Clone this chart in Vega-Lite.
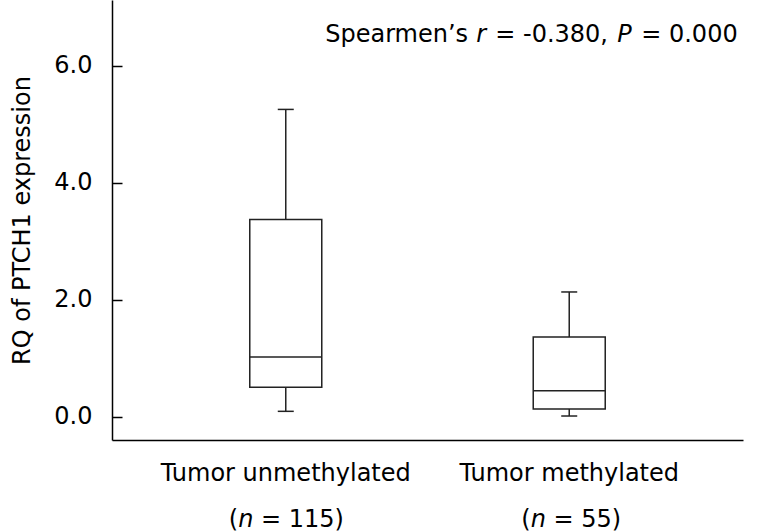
{
  "$schema": "https://vega.github.io/schema/vega-lite/v6.json",
  "width": 631,
  "height": 440,
  "autosize": {"type": "none"},
  "padding": {"left": 112, "top": 0, "right": 15, "bottom": 91},
  "background": "white",
  "config": {
    "view": {"stroke": null},
    "font": "DejaVu Sans",
    "text": {"font": "DejaVu Sans", "fontSize": 24, "color": "#000", "baseline": "alphabetic", "align": "left"}
  },
  "data": {
    "values": [
      {"group": "Tumor unmethylated", "min": 0.09, "q1": 0.50, "median": 1.02, "q3": 3.37, "max": 5.25},
      {"group": "Tumor methylated", "min": 0.01, "q1": 0.13, "median": 0.44, "q3": 1.36, "max": 2.13}
    ]
  },
  "encoding": {
    "x": {
      "field": "group",
      "type": "nominal",
      "sort": ["Tumor unmethylated", "Tumor methylated"],
      "scale": {"paddingOuter": 0.113, "paddingInner": 0},
      "axis": {
        "title": null,
        "labelAngle": 0,
        "labelFont": "DejaVu Sans",
        "labelFontSize": 24,
        "labelColor": "#000",
        "labelPadding": 21,
        "labelLimit": 0,
        "ticks": false,
        "domainColor": "#000",
        "domainWidth": 1.5,
        "labelBaseline": "top"
      }
    }
  },
  "layer": [
    {
      "mark": {"type": "rule", "stroke": "#222", "strokeWidth": 1.5},
      "encoding": {
        "y": {
          "field": "min",
          "type": "quantitative",
          "scale": {"domain": [-0.40, 7.12], "nice": false, "zero": false},
          "axis": {
            "values": [0, 2, 4, 6],
            "format": ".1f",
            "title": "RQ of PTCH1 expression",
            "titleFont": "DejaVu Sans",
            "titleFontSize": 24,
            "titleFontWeight": "normal",
            "titleColor": "#000",
            "titlePadding": 19,
            "labelFont": "DejaVu Sans",
            "labelFontSize": 24,
            "labelColor": "#000",
            "labelPadding": 30,
            "tickSize": -10,
            "tickWidth": 1.5,
            "tickColor": "#000",
            "domainColor": "#000",
            "domainWidth": 1.5,
            "grid": false
          }
        },
        "y2": {"field": "q1"}
      }
    },
    {
      "mark": {"type": "rule", "stroke": "#222", "strokeWidth": 1.5},
      "encoding": {
        "y": {"field": "q3", "type": "quantitative"},
        "y2": {"field": "max"}
      }
    },
    {
      "mark": {"type": "bar", "size": 72, "fill": "white", "stroke": "#222", "strokeWidth": 1.5},
      "encoding": {
        "y": {"field": "q1", "type": "quantitative"},
        "y2": {"field": "q3"}
      }
    },
    {
      "mark": {"type": "tick", "size": 72, "thickness": 1.5, "color": "#222", "opacity": 1},
      "encoding": {"y": {"field": "median", "type": "quantitative"}}
    },
    {
      "mark": {"type": "tick", "size": 16, "thickness": 1.5, "color": "#222", "opacity": 1},
      "encoding": {"y": {"field": "min", "type": "quantitative"}}
    },
    {
      "mark": {"type": "tick", "size": 16, "thickness": 1.5, "color": "#222", "opacity": 1},
      "encoding": {"y": {"field": "max", "type": "quantitative"}}
    },
    {
      "transform": [{"filter": "datum.group == 'Tumor unmethylated'"}],
      "mark": {"type": "text", "dx": -57},
      "encoding": {"y": {"datum": -1.886, "type": "quantitative"}, "text": {"value": "("}}
    },
    {
      "transform": [{"filter": "datum.group == 'Tumor unmethylated'"}],
      "mark": {"type": "text", "dx": -47.6, "fontStyle": "italic"},
      "encoding": {"y": {"datum": -1.886, "type": "quantitative"}, "text": {"value": "n"}}
    },
    {
      "transform": [{"filter": "datum.group == 'Tumor unmethylated'"}],
      "mark": {"type": "text", "dx": -24.8},
      "encoding": {"y": {"datum": -1.886, "type": "quantitative"}, "text": {"value": "= 115)"}}
    },
    {
      "transform": [{"filter": "datum.group == 'Tumor methylated'"}],
      "mark": {"type": "text", "dx": -48},
      "encoding": {"y": {"datum": -1.886, "type": "quantitative"}, "text": {"value": "("}}
    },
    {
      "transform": [{"filter": "datum.group == 'Tumor methylated'"}],
      "mark": {"type": "text", "dx": -38.6, "fontStyle": "italic"},
      "encoding": {"y": {"datum": -1.886, "type": "quantitative"}, "text": {"value": "n"}}
    },
    {
      "transform": [{"filter": "datum.group == 'Tumor methylated'"}],
      "mark": {"type": "text", "dx": -15.8},
      "encoding": {"y": {"datum": -1.886, "type": "quantitative"}, "text": {"value": "= 55)"}}
    },
    {
      "transform": [{"filter": "datum.group == 'Tumor methylated'"}],
      "mark": {"type": "text", "dx": -244},
      "encoding": {"y": {"datum": 6.41, "type": "quantitative"}, "text": {"value": "Spearmen’s"}}
    },
    {
      "transform": [{"filter": "datum.group == 'Tumor methylated'"}],
      "mark": {"type": "text", "dx": -93, "fontStyle": "italic"},
      "encoding": {"y": {"datum": 6.41, "type": "quantitative"}, "text": {"value": "r"}}
    },
    {
      "transform": [{"filter": "datum.group == 'Tumor methylated'"}],
      "mark": {"type": "text", "dx": -74},
      "encoding": {"y": {"datum": 6.41, "type": "quantitative"}, "text": {"value": "= -0.380,"}}
    },
    {
      "transform": [{"filter": "datum.group == 'Tumor methylated'"}],
      "mark": {"type": "text", "dx": 48, "fontStyle": "italic"},
      "encoding": {"y": {"datum": 6.41, "type": "quantitative"}, "text": {"value": "P"}}
    },
    {
      "transform": [{"filter": "datum.group == 'Tumor methylated'"}],
      "mark": {"type": "text", "dx": 72},
      "encoding": {"y": {"datum": 6.41, "type": "quantitative"}, "text": {"value": "= 0.000"}}
    }
  ]
}
